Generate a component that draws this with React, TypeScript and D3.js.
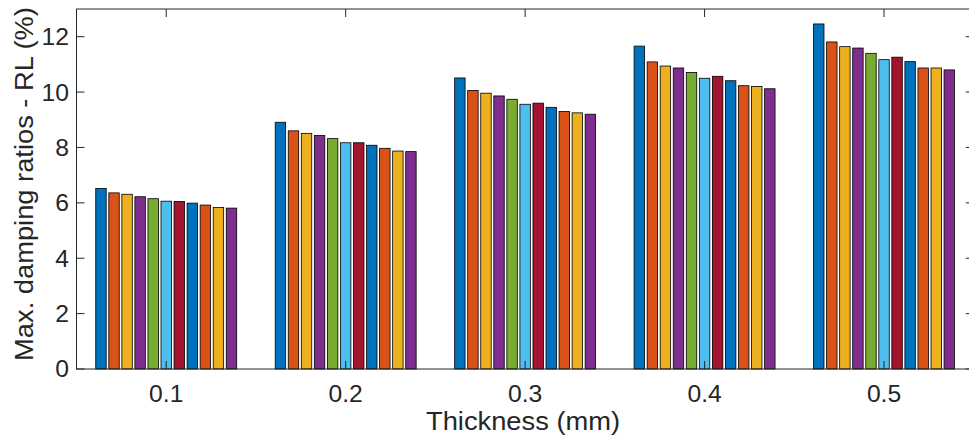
import React from "react";
import * as d3 from "d3";

const categories = ["0.1", "0.2", "0.3", "0.4", "0.5"];
// 11 series, one value per thickness group
const groupValues: number[][] = [
  [6.52, 6.36, 6.31, 6.22, 6.15, 6.06, 6.05, 5.99, 5.92, 5.83, 5.81],
  [8.91, 8.60, 8.51, 8.43, 8.32, 8.17, 8.17, 8.08, 7.97, 7.87, 7.85],
  [10.51, 10.06, 9.96, 9.86, 9.74, 9.56, 9.60, 9.45, 9.30, 9.25, 9.20],
  [11.66, 11.09, 10.94, 10.87, 10.71, 10.50, 10.57, 10.41, 10.23, 10.20, 10.12],
  [12.46, 11.81, 11.64, 11.59, 11.40, 11.17, 11.26, 11.10, 10.87, 10.87, 10.80],
];
const seriesColors = [
  "#0072BD", "#D95319", "#EDB120", "#7E2F8E", "#77AC30", "#4DBEEE",
  "#A2142F", "#0072BD", "#D95319", "#EDB120", "#7E2F8E",
];
const yTicks = [0, 2, 4, 6, 8, 10, 12];
const yLabel = "Max. damping ratios - RL (%)";
const xLabel = "Thickness (mm)";

const W = 969;
const H = 436;
const left = 76.5;
const top = 9;
const bottom = 369;
const right = 973.75;
const font = "'Liberation Sans', Arial, Helvetica, sans-serif";
const axisColor = "#262626";
const tickLen = 8;
const stretch = 1.05;

export default function App() {
  const x = d3.scaleLinear().domain([0.5, 5.5]).range([left, right]);
  const y = d3.scaleLinear().domain([0, 13]).range([bottom, top]);
  const nSeries = seriesColors.length;
  const groupWidth = 0.8;
  const slot = groupWidth / nSeries;
  const barW = slot * 0.8;

  const bars: React.ReactNode[] = [];
  categories.forEach((_, gi) => {
    groupValues[gi].forEach((v, si) => {
      const c = gi + 1 - groupWidth / 2 + slot * (si + 0.5);
      const x0 = x(c - barW / 2);
      const x1 = x(c + barW / 2);
      bars.push(
        <rect
          key={`${gi}-${si}`}
          x={x0}
          y={y(v)}
          width={x1 - x0}
          height={y(0) - y(v)}
          fill={seriesColors[si]}
          stroke="#000"
          strokeWidth={0.8}
        />
      );
    });
  });

  return (
    <svg
      width={W}
      height={H}
      style={{ position: "absolute", left: 0, top: 0, background: "#fff" }}
    >
      <rect x={0} y={0} width={W} height={H} fill="#fff" />
      {bars}
      <rect
        x={left}
        y={top}
        width={right - left}
        height={bottom - top}
        fill="none"
        stroke={axisColor}
        strokeWidth={1}
      />
      {categories.map((c, i) => (
        <g key={c}>
          <line x1={x(i + 1)} x2={x(i + 1)} y1={bottom} y2={bottom - tickLen} stroke={axisColor} strokeWidth={1} />
          <line x1={x(i + 1)} x2={x(i + 1)} y1={top} y2={top + tickLen} stroke={axisColor} strokeWidth={1} />
          <text
            transform={`translate(${x(i + 1)},401.5) scale(${stretch},1)`}
            textAnchor="middle"
            fontFamily={font}
            fontSize={23.5}
            fill={axisColor}
          >
            {c}
          </text>
        </g>
      ))}
      {yTicks.map((t) => (
        <g key={t}>
          <line x1={left} x2={left + tickLen} y1={y(t)} y2={y(t)} stroke={axisColor} strokeWidth={1} />
          <line x1={right} x2={right - tickLen} y1={y(t)} y2={y(t)} stroke={axisColor} strokeWidth={1} />
          <text
            transform={`translate(69,${y(t)}) scale(${stretch},1)`}
            dy="0.36em"
            textAnchor="end"
            fontFamily={font}
            fontSize={23.5}
            fill={axisColor}
          >
            {t}
          </text>
        </g>
      ))}
      <text
        transform={`translate(523,429.5) scale(${stretch},1)`}
        textAnchor="middle"
        fontFamily={font}
        fontSize={26}
        fill={axisColor}
      >
        {xLabel}
      </text>
      <text
        transform={`translate(33,${(top + bottom) / 2 - 5}) rotate(-90) scale(${stretch},1)`}
        textAnchor="middle"
        fontFamily={font}
        fontSize={26}
        fill={axisColor}
      >
        {yLabel}
      </text>
    </svg>
  );
}
